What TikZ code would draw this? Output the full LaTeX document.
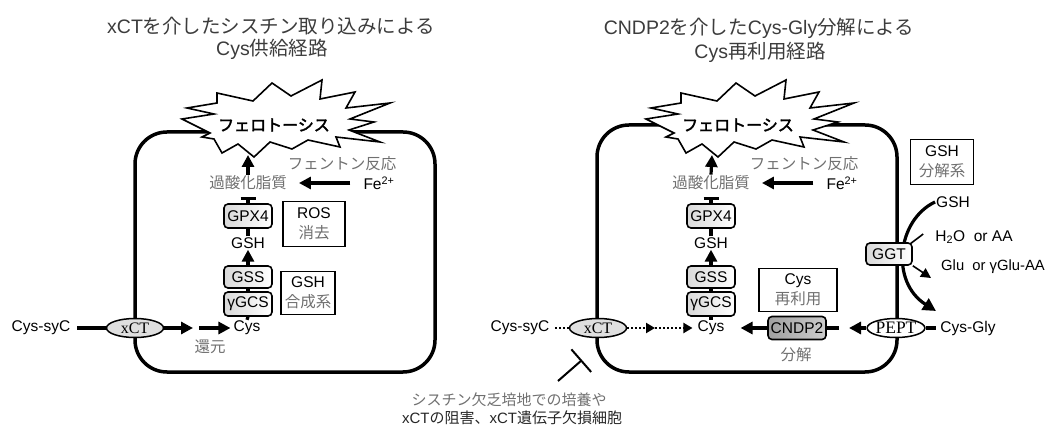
\documentclass[tikz,border=0pt]{standalone}
\usepackage{fontspec}
\setmainfont{Liberation Sans}
\newfontfamily\jp{Noto Sans CJK JP}
\newfontfamily\jpb[FakeBold=2.5]{Noto Sans CJK JP}
\newfontfamily\tms{Liberation Serif}
\usetikzlibrary{arrows.meta,shapes.geometric}
\definecolor{tgray}{RGB}{112,112,112}
\definecolor{ttl}{RGB}{60,60,60}
\newcommand\burstshape{\draw[burst] (-92,-6)--(-60,-11)--(-87,-17)--(-57,-22)--(-57,-32)--(-21,-24)--(-2,-42)--(17,-29)--(48,-45)--(46,-26)--(81,-33)--(72,-17)--(116,-22)--(76,-6)--(100,-3)--(75,5)--(106,17)--(62,12)--(66,22)--(34,15)--(18,24)--(-4,17)--(-20,32)--(-36,19)--(-52,28)--(-60,14)--(-72,12)--(-64,8)--cycle;}
\begin{document}
\begin{tikzpicture}[x=1pt,y=-1pt,
  every node/.style={inner sep=1pt},
  lbl/.style={font=\fontsize{15.5}{19}\selectfont},
  glbl/.style={lbl,text=tgray},
  ttlsty/.style={font=\fontsize{19.5}{23}\selectfont,text=ttl},
  cell/.style={line width=3.5pt,rounded corners=32pt},
  burst/.style={draw,line width=1.6pt,fill=white,line join=miter},
  ferro/.style={font=\jpb\fontsize{16}{18}\selectfont},
  thickarr/.style={line width=3.2pt,-{Triangle[length=12pt,width=12pt]}},
  thk/.style={line width=3.2pt},
  inh/.style={line width=3.2pt,-{Bar[width=15pt]}},
  dotarr/.style={line width=2pt,dash pattern=on 2pt off 2pt,-{Triangle[length=9pt,width=10pt]}},
  thinarr/.style={line width=1.6pt,-{Triangle[length=10pt,width=10pt]}},
  enz/.style={draw,line width=1.6pt,rounded corners=4pt,left color=gray!30,right color=white,minimum width=48pt,minimum height=24pt,inner sep=1pt,font=\fontsize{15.5}{19}\selectfont},
  darkenz/.style={enz,left color=gray!75,right color=gray!40},
  tbox/.style={draw,line width=1.5pt,fill=white,align=center,inner sep=0pt,font=\fontsize{15.5}{20}\selectfont},
  trans/.style={ellipse,draw,line width=1.5pt,fill=gray!25,minimum width=57pt,minimum height=19pt,inner sep=0pt,font=\tms\fontsize{16}{18}\selectfont},
]
\useasboundingbox (0,0) rectangle (1048,427);

% ---------------- titles
\node[ttlsty] (t1L) at (271,26) {xCT{\jp を介したシスチン取り込みによる}};
\node[ttlsty] (t2L) at (272,49) {Cys{\jp 供給経路}};
\node[ttlsty] (t1R) at (759,28) {CNDP2{\jp を介した}Cys-Gly{\jp 分解による}};
\node[ttlsty] (t2R) at (760,52) {Cys{\jp 再利用経路}};

% ---------------- cells
\draw[cell] (135,132) rectangle (435,372);
\draw[cell] (597,125) rectangle (897,372);

% ---------------- starbursts
\begin{scope}[shift={(274,125)}]\burstshape\end{scope}
\begin{scope}[shift={(738,125)}]\burstshape\end{scope}
\node[ferro] (ferroL) at (274,125) {フェロトーシス};
\node[ferro] (ferroR) at (738,125) {フェロトーシス};
\coordinate (bbL) at (248,155);
\coordinate (bbR) at (712,155);

% ================= LEFT PANEL
\node[glbl] (kasanL) at (248,183) {\jp 過酸化脂質};
\node[glbl] (fentonL) at (342,164) {\jp フェントン反応};
\node[lbl] (feL) at (379,183) {Fe\textsuperscript{2+}};
\node[enz] (gpxL) at (248,216) {GPX4};
\node[tbox,minimum width=62pt,minimum height=45pt] (rosL) at (314,224) {ROS\\{\jp\color{tgray}消去}};
\node[lbl] (gshL) at (248,243) {GSH};
\node[enz,minimum height=22pt] (gssL) at (248,277) {GSS};
\node[enz] (gcsL) at (248,304) {γGCS};
\node[tbox,minimum width=54pt,minimum height=43pt] (gsbL) at (308,293) {GSH\\{\jp\color{tgray}合成系}};
\node[lbl] (cysL) at (247,328) {Cys};
\node[lbl] (cyssycL) at (41,328) {Cys-syC};
\node[trans] (xctL) at (135,328) {xCT};
\node[glbl] (kangenL) at (210,347) {\jp 還元};
\coordinate (midL) at (193,328);

\draw[thickarr] (kasanL.north) -- (bbL);
\draw[thickarr,shorten <=12pt,shorten >=11pt] (feL.west) -- (feL.west -| kasanL.east);
\draw[inh] (gpxL.north) -- ++(0,-6);
\draw[thk] (gshL.north) -- (gpxL.south);
\draw[thickarr] (gssL.north) -- (gshL.south);
\draw[thk] (gssL.south) -- (gcsL.north);
\draw[thk] (gcsL.south) -- (cysL.north);
\draw[thk] ([xshift=6pt]cyssycL.east) -- (xctL.west);
\draw[thickarr] (xctL.east) -- (midL);
\draw[thickarr,shorten >=2pt] ([xshift=6pt]midL) -- (cysL.west);

% ================= RIGHT PANEL
\node[glbl] (kasanR) at (711,183) {\jp 過酸化脂質};
\node[glbl] (fentonR) at (804,164) {\jp フェントン反応};
\node[lbl] (feR) at (842,183) {Fe\textsuperscript{2+}};
\node[enz] (gpxR) at (711,216) {GPX4};
\node[lbl] (gshR) at (711,243) {GSH};
\node[enz,minimum height=22pt] (gssR) at (711,277) {GSS};
\node[enz] (gcsR) at (711,304) {γGCS};
\node[lbl] (cysR) at (711,328) {Cys};
\node[tbox,minimum width=78pt,minimum height=43pt] (reuse) at (798,290) {Cys\\{\jp\color{tgray}再利用}};
\node[darkenz,minimum width=58pt,minimum height=23pt] (cndp) at (797,328) {CNDP2};
\node[glbl] (bunkai) at (796,355) {\jp 分解};
\node[lbl] (cysgly) at (968,328) {Cys-Gly};
\node[lbl] (cyssycR) at (520,328) {Cys-syC};
\node[trans] (xctR) at (598,328) {xCT};
\node[trans,fill=white,minimum width=56pt,font=\tms\fontsize{17.5}{19}\selectfont] (pept) at (896,328) {PEPT};
\node[tbox,minimum width=63pt,minimum height=45pt] (gshdeg) at (942,162) {GSH\\{\jp\color{tgray}分解系}};
\node[lbl] (gsh2) at (953,202) {GSH};
\node[lbl] (h2o) at (974,237) {H\textsubscript{2}O\ \ or AA};
\node[font=\fontsize{14.8}{18}\selectfont,anchor=west] (glu) at (940,267) {Glu\ \ or γGlu-AA};
\coordinate (midR) at (655,328);
\coordinate (peptTip) at (849,328);
\coordinate (cndpStub) at (839,328);
\coordinate (cgTip) at (936,311);
\coordinate (h2oIn) at (910,244);
\coordinate (gluTip) at (931,278);

\draw[thickarr] (kasanR.north) -- (bbR);
\draw[thickarr,shorten <=12pt,shorten >=11pt] (feR.west) -- (feR.west -| kasanR.east);
\draw[inh] (gpxR.north) -- ++(0,-6);
\draw[thk] (gshR.north) -- (gpxR.south);
\draw[thickarr] (gssR.north) -- (gshR.south);
\draw[thk] (gssR.south) -- (gcsR.north);
\draw[thk] (gcsR.south) -- (cysR.north);
\draw[line width=2pt,dash pattern=on 2pt off 2pt] ([xshift=5pt]cyssycR.east) -- (xctR.west);
\draw[dotarr] (xctR.east) -- (midR);
\draw[dotarr,shorten >=4pt] (midR) -- (cysR.west);
\draw[thickarr,shorten >=15pt] (cndp.west) -- (cysR.east);
\draw[thk] (cndp.east) -- (cndpStub);
\draw[thickarr] (pept.west) -- (peptTip);
\draw[thk] (pept.east) -- ([xshift=-3pt]cysgly.west);

% GGT reaction
\draw[line width=3.2pt,-{Triangle[length=13pt,width=13pt]}] (gsh2.west) .. controls (897,220) and (890,282) .. (cgTip);
\draw[line width=1.6pt] ([xshift=-11pt,yshift=3pt]h2o.west) -- (h2oIn);
\node[enz,minimum width=46pt,minimum height=22pt] (ggt) at (889,254) {GGT};
\draw[thinarr] (ggt.south east) -- (gluTip);

% inhibition
\node[font=\fontsize{15}{18}\selectfont,text=tgray] (inh1) at (509,400) {\jp シスチン欠乏培地での培養や};
\node[font=\fontsize{15}{18}\selectfont,text=black!85] (inh2) at (512,418) {xCT{\jp の阻害、}xCT{\jp 遺伝子欠損細胞}};
\coordinate (inhS) at (558,381);
\coordinate (inhE) at (582,360);
\draw[line width=2pt,-{Bar[width=30pt]}] (inhS) -- (inhE);
\end{tikzpicture}
\end{document}
